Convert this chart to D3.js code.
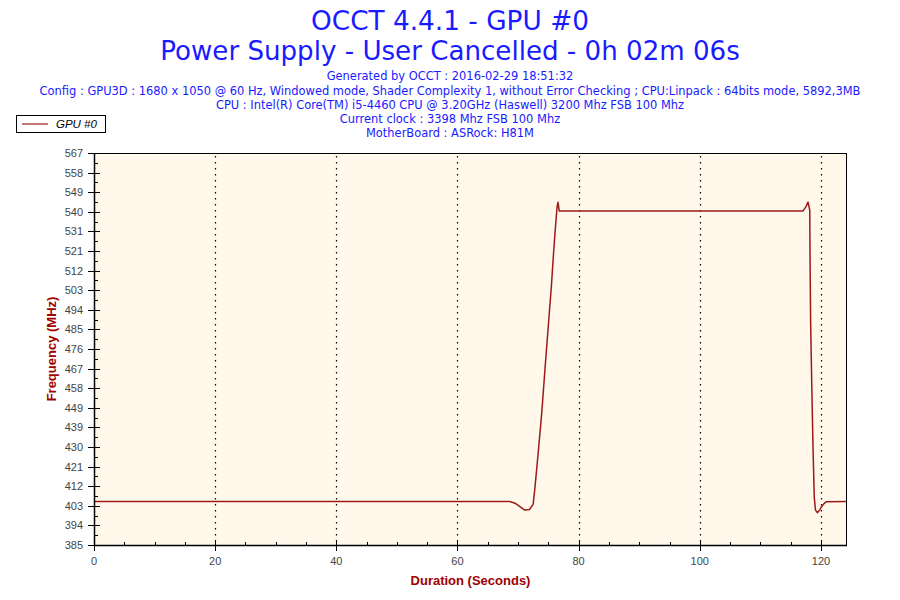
<!DOCTYPE html>
<html><head><meta charset="utf-8">
<script src="https://cdn.jsdelivr.net/npm/d3@7"></script>
<style>body{margin:0;background:#fff}svg{display:block}</style>
</head><body>
<svg id="c" width="900" height="600"></svg>
<script>
// ---- data ----
const titleLines = ["OCCT 4.4.1 - GPU #0", "Power Supply - User Cancelled - 0h 02m 06s"];
const infoLines = [
  "Generated by OCCT : 2016-02-29 18:51:32",
  "Config : GPU3D : 1680 x 1050 @ 60 Hz, Windowed mode, Shader Complexity 1, without Error Checking ; CPU:Linpack : 64bits mode, 5892,3MB",
  "CPU : Intel(R) Core(TM) i5-4460 CPU @ 3.20GHz (Haswell) 3200 Mhz FSB 100 Mhz",
  "Current clock : 3398 Mhz FSB 100 Mhz",
  "MotherBoard : ASRock: H81M"
];
const seriesName = "GPU #0";
const timeSec = [0, 68.6, 69.5, 70.3, 71.1, 71.9, 72.5, 72.8, 73.3, 73.9, 74.4, 75.0, 75.5, 75.8, 76.1, 76.45, 76.6, 76.8,
  117.05, 117.5, 117.87, 118.15, 118.2, 118.3, 118.5, 118.7, 118.9, 119.1, 119.4, 119.8, 120.1, 120.5, 120.9, 124.3];
const freqMHz = [405.2, 405.2, 404.4, 402.8, 401.2, 401.5, 404.0, 412.0, 427.0, 446.0, 465.0, 487.0, 505.0, 518.0, 530.0, 542.1, 544.1, 540.1,
  540.1, 542.0, 544.2, 540.5, 518, 488, 457, 429, 407, 401.2, 400.0, 401.3, 402.8, 404.2, 405.1, 405.2];
const xTicks = [0, 20, 40, 60, 80, 100, 120];
const yTickLabels = ["385","394","403","412","421","430","439","449","458","467","476","485","494","503","512","521","531","540","549","558","567"];
const yMin = 385, yMax = 567, xMax = 124.3;
const xLabel = "Duration (Seconds)", yLabel = "Frequency (MHz)";

// ---- chart ----
const svg = d3.select("#c");
const L = 94, R = 847, T = 153, B = 545;
const x = d3.scaleLinear().domain([0, xMax]).range([L, R]);
const y = d3.scaleLinear().domain([yMin, yMax]).range([B, T]);
const blue = "#1a1aff", red = "#9e1a1a", dark = "#a00000";

// titles
function fit(sel, target) {
  const w = sel.node().getComputedTextLength();
  const fs = parseFloat(sel.attr("font-size"));
  sel.attr("font-size", fs * target / w);
}
const t1 = svg.append("text").attr("x", 450).attr("y", 30).attr("text-anchor", "middle")
  .attr("font-family", "DejaVu Sans, Verdana, sans-serif").attr("font-size", 24).attr("fill", blue).text(titleLines[0]);
fit(t1, 278);
const t2 = svg.append("text").attr("x", 450).attr("y", 60).attr("text-anchor", "middle")
  .attr("font-family", "DejaVu Sans, Verdana, sans-serif").attr("font-size", 24).attr("fill", blue).text(titleLines[1]);
fit(t2, 580);

const infoY = [80, 95, 109, 123, 137];
const infoSel = svg.selectAll("text.info").data(infoLines).enter().append("text").attr("class", "info")
  .attr("x", 450).attr("y", (d, i) => infoY[i]).attr("text-anchor", "middle")
  .attr("font-family", "DejaVu Sans Condensed, DejaVu Sans, sans-serif").attr("font-size", 11).attr("fill", blue).text(d => d);
{
  const n = infoSel.nodes()[1];
  const w = n.getComputedTextLength();
  const fs = 11 * 822 / w;
  infoSel.attr("font-size", fs);
}

// legend
const lg = svg.append("g");
lg.append("rect").attr("x", 16.5).attr("y", 115.5).attr("width", 89).attr("height", 17).attr("fill", "#fff").attr("stroke", "#000");
lg.append("line").attr("x1", 22).attr("x2", 48).attr("y1", 124).attr("y2", 124).attr("stroke", red).attr("stroke-width", 1.2);
lg.append("text").attr("x", 56).attr("y", 128).attr("font-family", "Liberation Sans, Arial, sans-serif")
  .attr("font-style", "italic").attr("font-size", 11.5).attr("fill", "#000").text(seriesName);

// plot background
svg.append("rect").attr("x", L).attr("y", T).attr("width", R - L).attr("height", B - T).attr("fill", "#fff8eb");

// vertical grid
svg.append("g").selectAll("line").data(xTicks.filter(d => d > 0)).enter().append("line")
  .attr("x1", d => Math.round(x(d)) + 0.5).attr("x2", d => Math.round(x(d)) + 0.5)
  .attr("y1", T + 3).attr("y2", B)
  .attr("stroke", "#000").attr("stroke-width", 1.2).attr("stroke-dasharray", "1.5,4.5");

// line
const line = d3.line().x((d, i) => x(timeSec[i])).y(d => y(d));
svg.append("path").datum(freqMHz).attr("d", line).attr("fill", "none")
  .attr("stroke", red).attr("stroke-width", 1.5).attr("stroke-linejoin", "round");

// border
svg.append("rect").attr("x", L + 0.5).attr("y", T + 0.5).attr("width", R - L - 1).attr("height", B - T)
  .attr("fill", "none").attr("stroke", "#000").attr("stroke-width", 1);
svg.append("line").attr("x1", L).attr("x2", R).attr("y1", B + 0.5).attr("y2", B + 0.5).attr("stroke", "#000").attr("stroke-width", 1.5);
svg.append("line").attr("x1", L + 0.5).attr("x2", L + 0.5).attr("y1", T).attr("y2", B + 1).attr("stroke", "#000").attr("stroke-width", 1.5);

// x axis
const xMinor = d3.range(0, xMax, 5).filter(d => !xTicks.includes(d));
const xAx = svg.append("g").attr("transform", `translate(0,${B})`);
xAx.selectAll("line.maj").data(xTicks).enter().append("line")
  .attr("x1", d => Math.round(x(d)) + 0.5).attr("x2", d => Math.round(x(d)) + 0.5).attr("y1", -5).attr("y2", 6)
  .attr("stroke", "#000");
xAx.selectAll("line.min").data(xMinor).enter().append("line")
  .attr("x1", d => Math.round(x(d)) + 0.5).attr("x2", d => Math.round(x(d)) + 0.5).attr("y1", -3).attr("y2", 0)
  .attr("stroke", "#000");
xAx.selectAll("text").data(xTicks).enter().append("text")
  .attr("x", d => x(d)).attr("y", 20).attr("text-anchor", "middle")
  .attr("font-family", "Liberation Sans, Arial, sans-serif").attr("font-size", 11).attr("fill", "#444").text(d => d);

// y axis
const yStep = (yMax - yMin) / (yTickLabels.length - 1);
const yVals = yTickLabels.map((d, i) => yMin + i * yStep);
const yMinor = yVals.slice(0, -1).map(v => v + yStep / 2);
const yAx = svg.append("g").attr("transform", `translate(${L},0)`);
yAx.selectAll("line.maj").data(yVals).enter().append("line")
  .attr("x1", -6).attr("x2", 6).attr("y1", d => Math.round(y(d)) + 0.5).attr("y2", d => Math.round(y(d)) + 0.5)
  .attr("stroke", "#000");
yAx.selectAll("line.min").data(yMinor).enter().append("line")
  .attr("x1", 0).attr("x2", 4).attr("y1", d => Math.round(y(d)) + 0.5).attr("y2", d => Math.round(y(d)) + 0.5)
  .attr("stroke", "#000");
yAx.selectAll("text").data(yVals).enter().append("text")
  .attr("x", -11).attr("y", d => y(d) + 4).attr("text-anchor", "end")
  .attr("font-family", "Liberation Sans, Arial, sans-serif").attr("font-size", 11).attr("fill", "#444")
  .text((d, i) => yTickLabels[i]);

// axis titles
svg.append("text").attr("x", (L + R) / 2).attr("y", 585).attr("text-anchor", "middle")
  .attr("font-family", "Liberation Sans, Arial, sans-serif").attr("font-weight", "bold").attr("font-size", 13)
  .attr("fill", dark).text(xLabel);
svg.append("text").attr("transform", `translate(56,${(T + B) / 2}) rotate(-90)`).attr("text-anchor", "middle")
  .attr("font-family", "Liberation Sans, Arial, sans-serif").attr("font-weight", "bold").attr("font-size", 13)
  .attr("fill", dark).text(yLabel);
</script>
</body></html>
